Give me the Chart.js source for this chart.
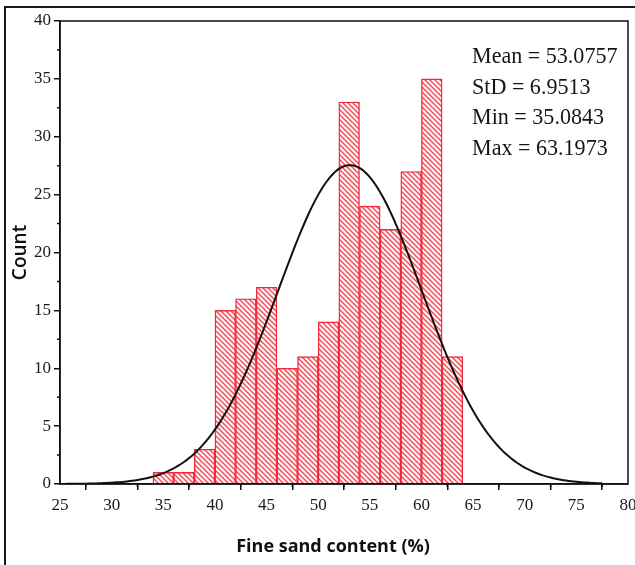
<!DOCTYPE html>
<html>
<head>
<meta charset="utf-8">
<script src="https://cdn.jsdelivr.net/npm/chart.js@4/dist/chart.umd.min.js"></script>
<style>
  html, body { margin: 0; padding: 0; background: #fff; }
  canvas { display: block; }
</style>
</head>
<body>
<canvas id="hist" width="635" height="565"></canvas>
<script>
// Histogram bins (2 % wide) and their counts
const binCenters = [35, 37, 39, 41, 43, 45, 47, 49, 51, 53, 55, 57, 59, 61, 63];
const counts     = [1, 1, 3, 15, 16, 17, 10, 11, 14, 33, 24, 22, 27, 35, 11];
const binWidth = 2;

// Summary statistics shown in the corner box
const statNames  = ['Mean', 'StD', 'Min', 'Max'];
const statValues = ['53.0757', '6.9513', '35.0843', '63.1973'];

// Normal fit parameters and the x-range it is drawn over
const fitMean = 53.0757;
const fitStd = 6.9513;
const curveRange = [25, 77.5];

const xTitle = 'Fine sand content (%)';
const yTitle = 'Count';

// Fitted normal density scaled to counts per bin
const total = counts.reduce((a, b) => a + b, 0);
const peak = total * binWidth / (fitStd * Math.sqrt(2 * Math.PI));
const curve = [];
for (let x = curveRange[0]; x <= curveRange[1] + 1e-9; x += 0.25) {
  const z = (x - fitMean) / fitStd;
  curve.push({ x: x, y: peak * Math.exp(-0.5 * z * z) });
}

const bars = binCenters.map((c, i) => ({ x: c, y: counts[i] }));

// Diagonal red hatch fill
function hatch() {
  const s = 5;
  const tile = document.createElement('canvas');
  tile.width = s; tile.height = s;
  const g = tile.getContext('2d');
  g.fillStyle = '#fff4f4';
  g.fillRect(0, 0, s, s);
  g.strokeStyle = 'rgba(232, 45, 60, 0.85)';
  g.lineWidth = 1.3;
  for (const c of [-s, 0, s]) {
    g.beginPath();
    g.moveTo(c - 1, -1);
    g.lineTo(c + s + 1, s + 1);
    g.stroke();
  }
  return g.createPattern(tile, 'repeat');
}

const serif = '"Liberation Serif", "Times New Roman", serif';
const sans = '"Open Sans", sans-serif';

const decor = {
  id: 'decor',
  beforeDraw(chart) {
    const ctx = chart.ctx;
    ctx.save();
    ctx.fillStyle = '#fff';
    ctx.fillRect(0, 0, chart.width, chart.height);
    // outer frame (top and left edges)
    ctx.strokeStyle = '#1a1a1a';
    ctx.lineWidth = 2;
    ctx.beginPath();
    ctx.moveTo(635, 7);
    ctx.lineTo(5, 7);
    ctx.lineTo(5, 565);
    ctx.stroke();
    ctx.restore();
  },
  afterDraw(chart) {
    const ctx = chart.ctx;
    const a = chart.chartArea;
    const xs = chart.scales.x, ys = chart.scales.y;
    ctx.save();
    // plot box
    ctx.strokeStyle = '#111';
    ctx.lineWidth = 1.5;
    ctx.strokeRect(a.left, a.top, a.right - a.left, a.bottom - a.top);
    // minor ticks
    ctx.beginPath();
    for (let v = 27.5; v < 80; v += 5) {
      const px = xs.getPixelForValue(v);
      ctx.moveTo(px, a.bottom);
      ctx.lineTo(px, a.bottom + 3);
    }
    for (let v = 2.5; v < 40; v += 5) {
      const py = ys.getPixelForValue(v);
      ctx.moveTo(a.left, py);
      ctx.lineTo(a.left - 3, py);
    }
    ctx.stroke();
    // x-axis title
    ctx.fillStyle = '#111';
    ctx.font = 'bold 18px ' + sans;
    ctx.textAlign = 'center';
    ctx.textBaseline = 'middle';
    ctx.fillText(xTitle, 333, 547);
    // statistics text (slightly condensed serif)
    ctx.fillStyle = '#151515';
    ctx.font = '24px ' + serif;
    ctx.textBaseline = 'alphabetic';
    ctx.textAlign = 'left';
    statNames.forEach((n, i) => {
      ctx.save();
      ctx.translate(472, 63 + i * 30.7);
      ctx.scale(0.92, 1);
      ctx.fillText(n + ' = ' + statValues[i], 0, 0);
      ctx.restore();
    });
    ctx.restore();
  }
};

new Chart(document.getElementById('hist'), {
  type: 'bar',
  data: {
    datasets: [
      {
        type: 'line',
        data: curve,
        borderColor: '#111',
        borderWidth: 2,
        pointRadius: 0,
        tension: 0,
        fill: false,
        order: 0
      },
      {
        type: 'bar',
        data: bars,
        backgroundColor: hatch(),
        borderColor: 'rgb(240, 40, 55)',
        borderWidth: 1.4,
        barPercentage: 1,
        categoryPercentage: 1,
        order: 1
      }
    ]
  },
  options: {
    responsive: false,
    animation: false,
    devicePixelRatio: 1,
    layout: { padding: { top: 21, right: 7, left: 0, bottom: 0 } },
    plugins: { legend: { display: false }, tooltip: { enabled: false } },
    scales: {
      x: {
        type: 'linear',
        min: 25, max: 80,
        offset: false,
        border: { display: true, color: '#111', width: 1.5 },
        grid: { display: true, drawOnChartArea: false, drawTicks: true, tickLength: 6, color: '#111', lineWidth: 1.5 },
        ticks: { stepSize: 5, autoSkip: false, maxRotation: 0, padding: 5, color: '#1a1a1a', font: { family: serif, size: 17 } },
        title: { display: false },
        afterFit(s) { s.height = 81; s.paddingLeft = 0; s.paddingRight = 0; }
      },
      y: {
        min: 0, max: 40,
        border: { display: true, color: '#111', width: 1.5 },
        grid: { display: true, drawOnChartArea: false, drawTicks: true, tickLength: 6, color: '#111', lineWidth: 1.5 },
        ticks: { stepSize: 5, padding: 3, color: '#1a1a1a', font: { family: serif, size: 17 } },
        title: { display: true, text: yTitle, color: '#111', font: { family: sans, size: 19, weight: '600' }, padding: { top: 9, bottom: 9 } },
        afterFit(s) { s.width = 60; s.paddingTop = 0; s.paddingBottom = 0; }
      }
    }
  },
  plugins: [decor]
});
</script>
</body>
</html>
